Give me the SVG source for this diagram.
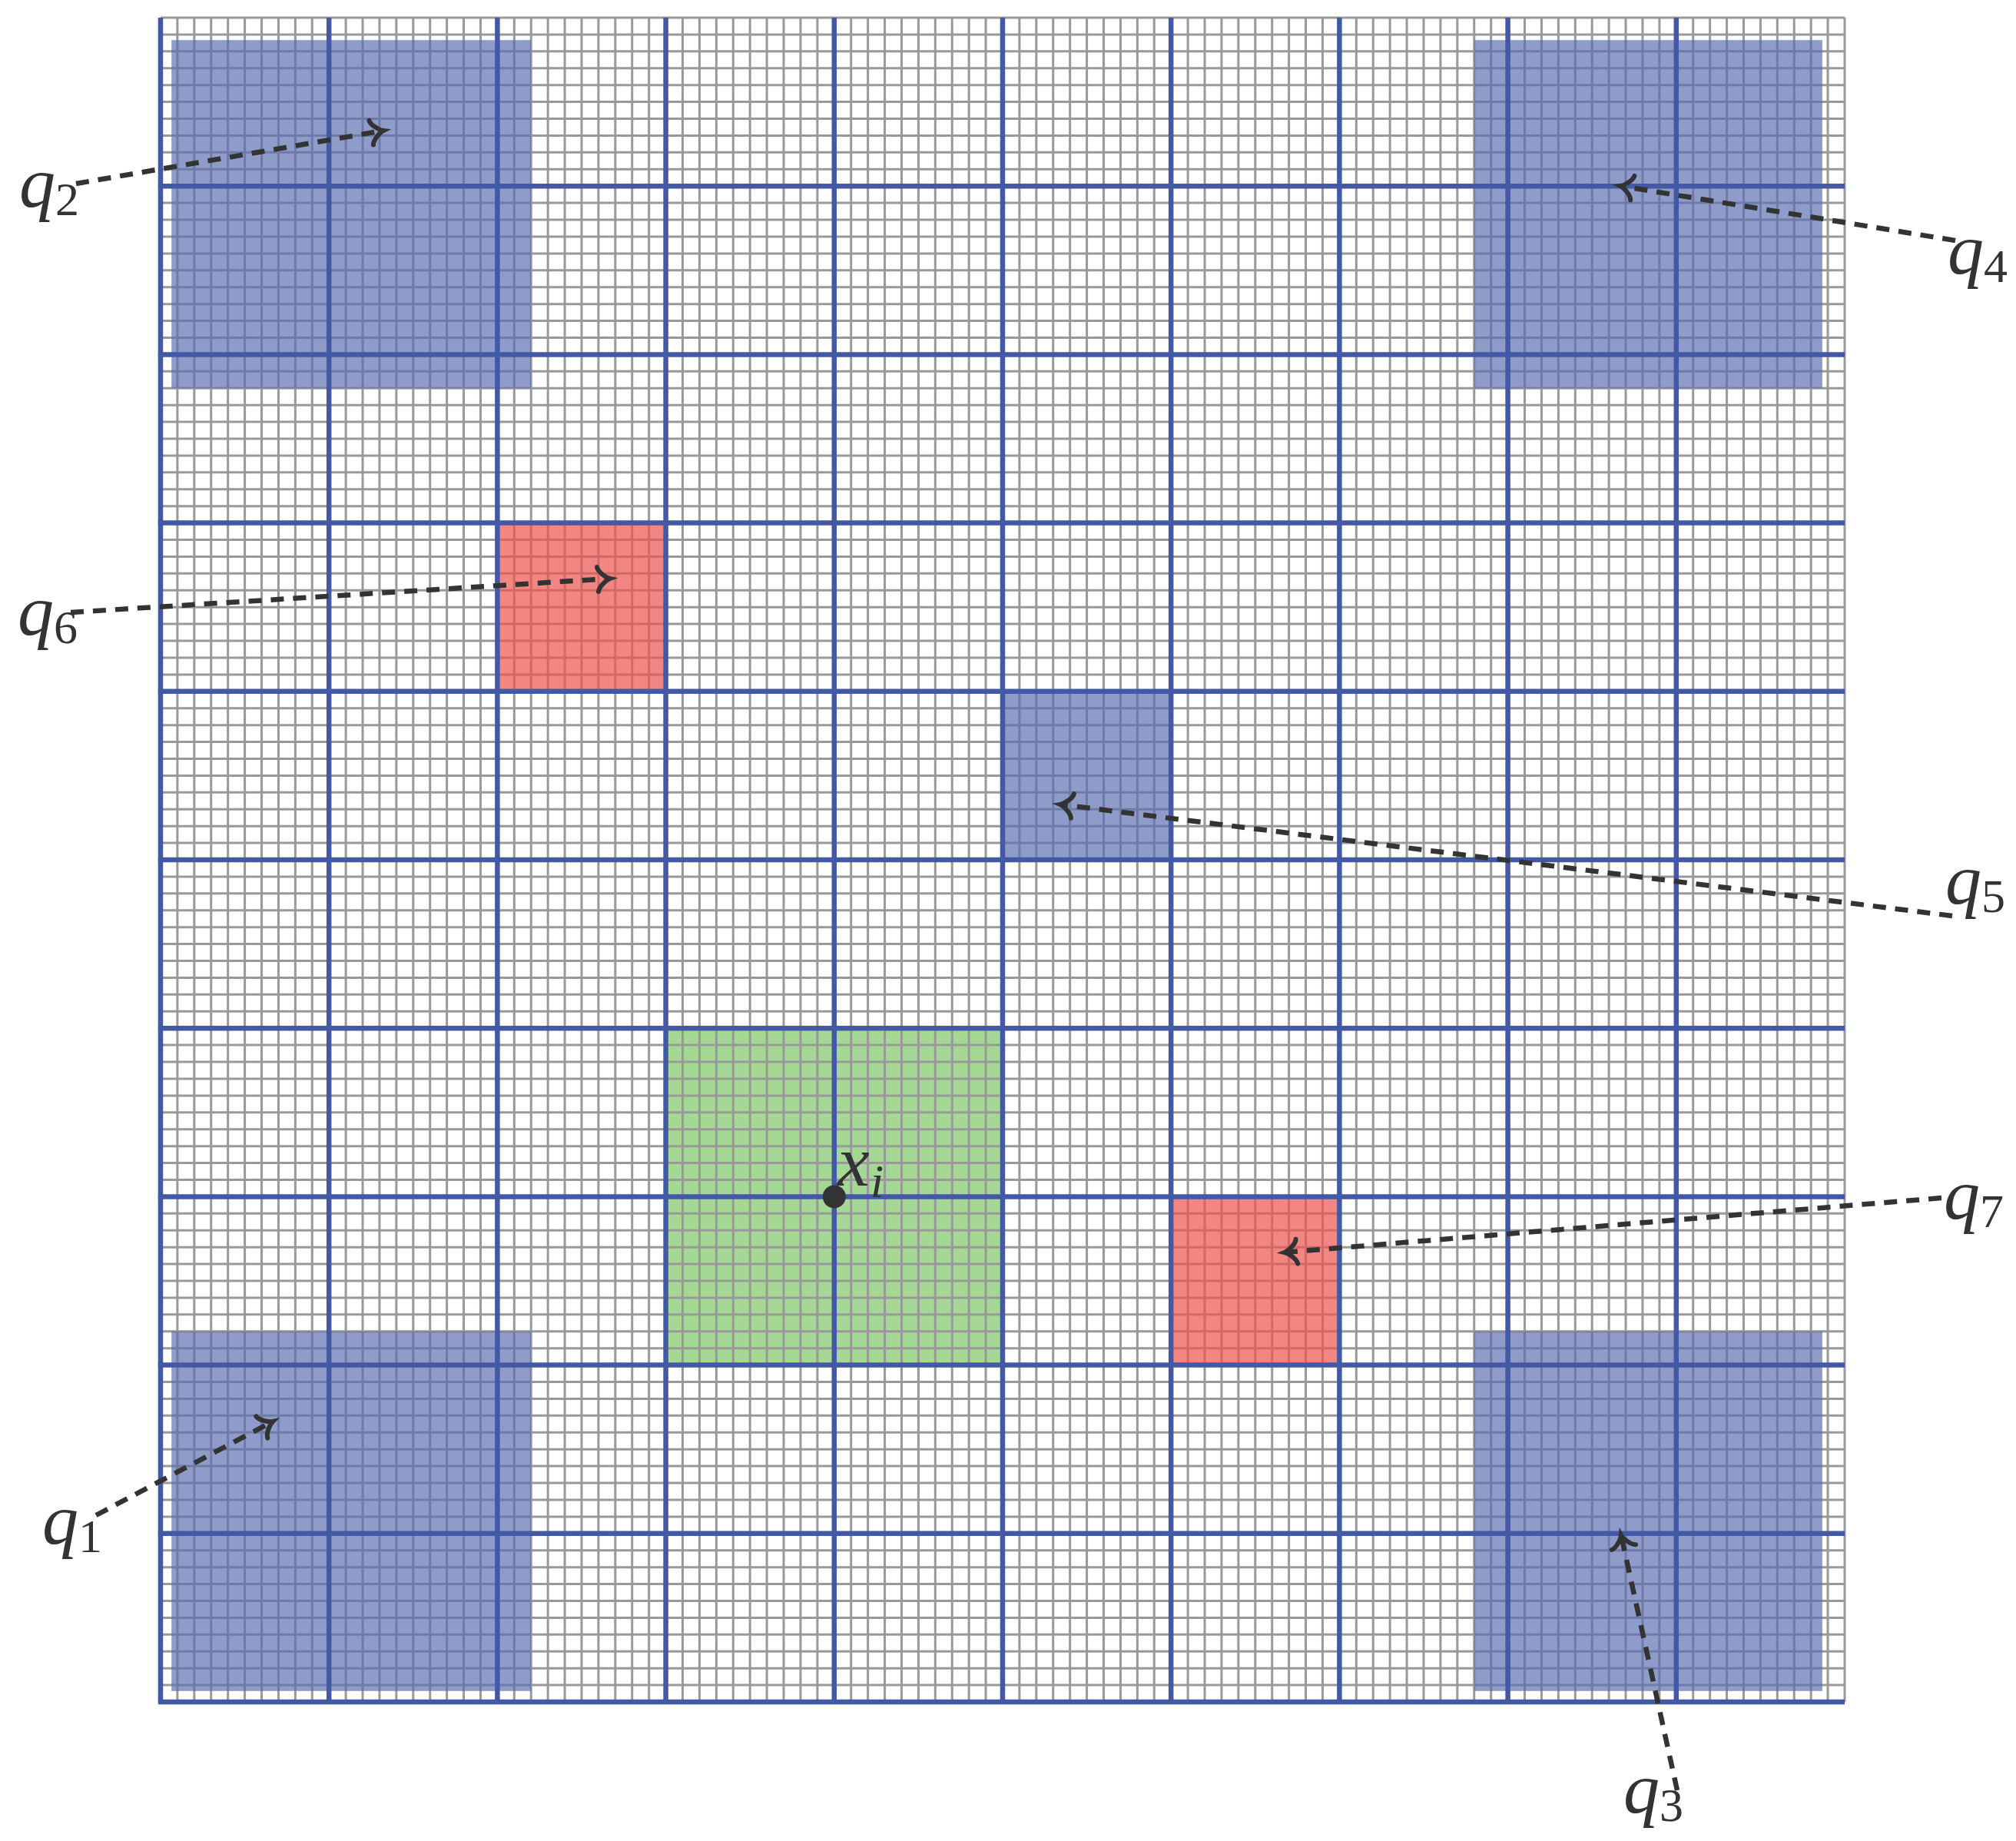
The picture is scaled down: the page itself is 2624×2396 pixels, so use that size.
<svg xmlns="http://www.w3.org/2000/svg" width="2624" height="2396" viewBox="0 0 2624 2396">
<style>
.fine{fill:none;stroke:#999999;stroke-width:3;vector-effect:non-scaling-stroke}
.major{fill:none;stroke:#4459a5;stroke-width:6.5}
.bfill{fill:#5a6db0;opacity:0.68}
.rfill{fill:#ec524e;opacity:0.7}
.gfill{fill:#a6d895}
.conn{fill:none;stroke:#333333;stroke-width:6.5;stroke-dasharray:17 12}
.lbl{font-family:"Liberation Serif","Times New Roman",serif;font-style:italic;font-size:94px;fill:#333333}
.sub{font-style:normal;font-size:62px}
.subi{font-style:italic;font-size:62px}
</style>
<defs>
<marker id="tip" markerUnits="userSpaceOnUse" orient="auto" markerWidth="60" markerHeight="60" refX="0" refY="0" overflow="visible">
<path d="M-16,-16 C-15,-9 -4,-1.2 0,0 C-4,1.2 -15,9 -16,16" fill="none" stroke="#333333" stroke-width="6" stroke-linecap="round" stroke-dasharray="none"/>
</marker>
<path id="v10" class="fine" d="M0 0V100M1 0V100M2 0V100M3 0V100M4 0V100M5 0V100M6 0V100M7 0V100M8 0V100M9 0V100"/>
<path id="h10" class="fine" d="M0 0H100M0 1H100M0 2H100M0 3H100M0 4H100M0 5H100M0 6H100M0 7H100M0 8H100M0 9H100"/>
</defs>
<rect width="2624" height="2396" fill="#ffffff"/>
<g id="green-region"><rect class="gfill" x="866.6" y="1338.2" width="438.4" height="438.4"/></g>
<g id="fine-grid" transform="translate(209,23) scale(21.92)">
<use href="#v10" x="0"/><use href="#v10" x="10"/><use href="#v10" x="20"/><use href="#v10" x="30"/><use href="#v10" x="40"/>
<use href="#v10" x="50"/><use href="#v10" x="60"/><use href="#v10" x="70"/><use href="#v10" x="80"/><use href="#v10" x="90"/>
<use href="#h10" y="0"/><use href="#h10" y="10"/><use href="#h10" y="20"/><use href="#h10" y="30"/><use href="#h10" y="40"/>
<use href="#h10" y="50"/><use href="#h10" y="60"/><use href="#h10" y="70"/><use href="#h10" y="80"/><use href="#h10" y="90"/>
<path class="fine" d="M100 0V100M0 100H100"/>
</g>
<g id="regions">
<rect id="region-q2" class="bfill" x="223.2" y="52.2" width="468" height="453"/>
<rect id="region-q4" class="bfill" x="1918.8" y="52.2" width="453.1" height="453"/>
<rect id="region-q1" class="bfill" x="223.2" y="1732.8" width="468" height="468"/>
<rect id="region-q3" class="bfill" x="1918.8" y="1732.8" width="453.1" height="468"/>
<rect id="region-q5" class="bfill" x="1305" y="899.8" width="219.2" height="219.2"/>
<rect id="region-q6" class="rfill" x="647.4" y="680.6" width="219.2" height="219.2"/>
<rect id="region-q7" class="rfill" x="1524.2" y="1557.4" width="219.2" height="219.2"/>
</g>
<g id="major-grid">
<path class="major" d="M209 23V2215M428.2 23V2215M647.4 23V2215M866.6 23V2215M1085.8 23V2215M1305 23V2215M1524.2 23V2215M1743.4 23V2215M1962.6 23V2215M2181.8 23V2215"/>
<path class="major" d="M205.8 242.2H2401M205.8 461.4H2401M205.8 680.6H2401M205.8 899.8H2401M205.8 1119H2401M205.8 1338.2H2401M205.8 1557.4H2401M205.8 1776.6H2401M205.8 1995.8H2401M205.8 2215H2401"/>
</g>
<g id="connectors">
<line class="conn" x1="125" y1="1972" x2="355" y2="1850" marker-end="url(#tip)"/>
<line class="conn" x1="99" y1="239" x2="499" y2="170" marker-end="url(#tip)"/>
<line class="conn" x1="2183" y1="2330" x2="2110" y2="1998" marker-end="url(#tip)"/>
<line class="conn" x1="2545" y1="313" x2="2109" y2="242" marker-end="url(#tip)"/>
<line class="conn" x1="2541" y1="1192" x2="1380" y2="1047" marker-end="url(#tip)"/>
<line class="conn" x1="92" y1="797" x2="794" y2="753" marker-end="url(#tip)"/>
<line class="conn" x1="2527" y1="1559" x2="1672" y2="1630" marker-end="url(#tip)"/>
</g>
<g id="node-xi">
<circle cx="1085.8" cy="1557.4" r="15" fill="#333333"/>
<text class="lbl" x="1090" y="1543">x<tspan class="subi" x="1133" y="1558">i</tspan></text>
</g>
<g id="node-q1"><text class="lbl" x="55" y="2009">q<tspan class="sub" x="102" y="2020">1</tspan></text></g>
<g id="node-q2"><text class="lbl" x="25" y="269">q<tspan class="sub" x="72" y="280">2</tspan></text></g>
<g id="node-q3"><text class="lbl" x="2113" y="2359">q<tspan class="sub" x="2160" y="2370">3</tspan></text></g>
<g id="node-q4"><text class="lbl" x="2535" y="356">q<tspan class="sub" x="2582" y="367">4</tspan></text></g>
<g id="node-q5"><text class="lbl" x="2532" y="1176">q<tspan class="sub" x="2579" y="1187">5</tspan></text></g>
<g id="node-q6"><text class="lbl" x="23" y="826">q<tspan class="sub" x="70" y="837">6</tspan></text></g>
<g id="node-q7"><text class="lbl" x="2530" y="1586">q<tspan class="sub" x="2577" y="1597">7</tspan></text></g>
</svg>
